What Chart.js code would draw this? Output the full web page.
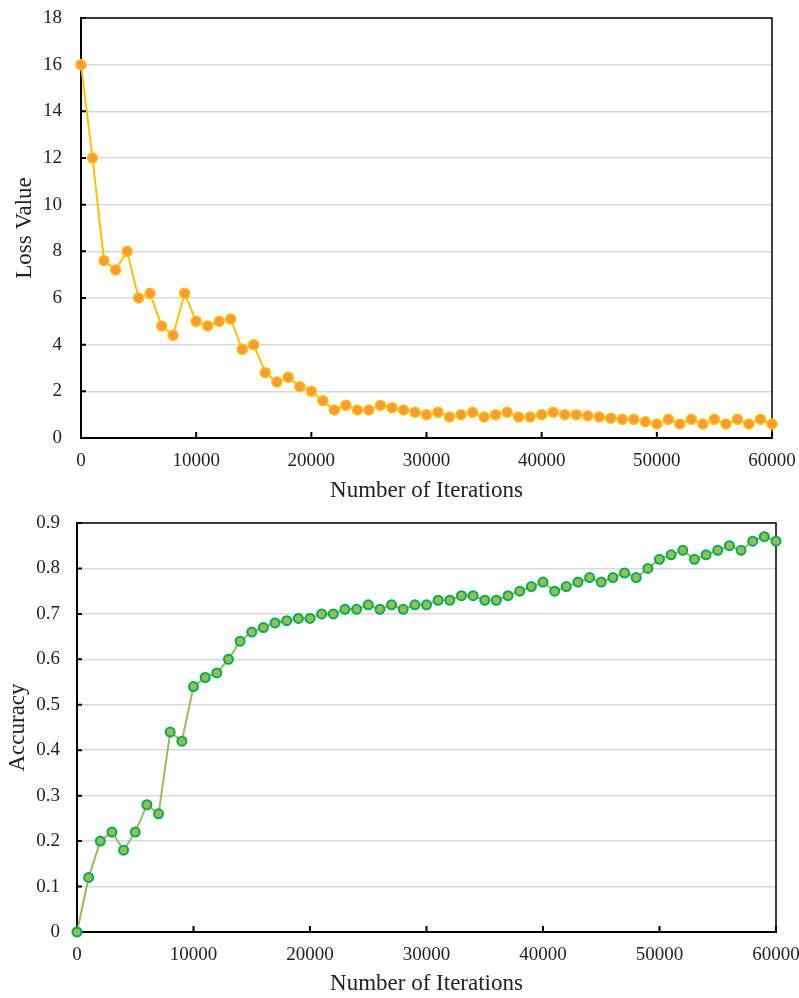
<!DOCTYPE html>
<html>
<head>
<meta charset="utf-8">
<script src="https://cdn.jsdelivr.net/npm/chart.js@4/dist/chart.umd.min.js"></script>
<style>
  html, body { margin: 0; padding: 0; background: #fff; }
  #wrap { position: relative; width: 799px; height: 998px; }
  #lossChart { position: absolute; left: 0; top: 0; }
  #accChart { position: absolute; left: 0; top: 505px; }
</style>
</head>
<body>
<div id="wrap">
  <canvas id="lossChart" width="799" height="505"></canvas>
  <canvas id="accChart" width="799" height="493"></canvas>
</div>
<script>
/* dados */
const iterations = [
  0, 1000, 2000, 3000, 4000, 5000, 6000, 7000, 8000, 9000,
  10000, 11000, 12000, 13000, 14000, 15000, 16000, 17000, 18000, 19000,
  20000, 21000, 22000, 23000, 24000, 25000, 26000, 27000, 28000, 29000,
  30000, 31000, 32000, 33000, 34000, 35000, 36000, 37000, 38000, 39000,
  40000, 41000, 42000, 43000, 44000, 45000, 46000, 47000, 48000, 49000,
  50000, 51000, 52000, 53000, 54000, 55000, 56000, 57000, 58000, 59000,
  60000
];

const lossValues = [
  16, 12, 7.6, 7.2, 8, 6, 6.2, 4.8, 4.4, 6.2,
  5, 4.8, 5, 5.1, 3.8, 4, 2.8, 2.4, 2.6, 2.2,
  2, 1.6, 1.2, 1.4, 1.2, 1.2, 1.4, 1.3, 1.2, 1.1,
  1, 1.1, 0.9, 1, 1.1, 0.9, 1, 1.1, 0.9, 0.9,
  1, 1.1, 1, 1, 0.95, 0.9, 0.85, 0.8, 0.8, 0.7,
  0.6, 0.8, 0.6, 0.8, 0.6, 0.8, 0.6, 0.8, 0.6, 0.8,
  0.6
];

const accuracyValues = [
  0, 0.12, 0.2, 0.22, 0.18, 0.22, 0.28, 0.26, 0.44, 0.42,
  0.54, 0.56, 0.57, 0.6, 0.64, 0.66, 0.67, 0.68, 0.685, 0.69,
  0.69, 0.7, 0.7, 0.71, 0.71, 0.72, 0.71, 0.72, 0.71, 0.72,
  0.72, 0.73, 0.73, 0.74, 0.74, 0.73, 0.73, 0.74, 0.75, 0.76,
  0.77, 0.75, 0.76, 0.77, 0.78, 0.77, 0.78, 0.79, 0.78, 0.8,
  0.82, 0.83, 0.84, 0.82, 0.83, 0.84, 0.85, 0.84, 0.86, 0.87,
  0.86
];

const FONT = "'Liberation Serif', 'Times New Roman', serif";

/* moldura preta + marcas de escala para dentro */
const framePlugin = {
  id: 'frame',
  beforeDatasetsDraw(chart) {
    const ctx = chart.ctx;
    const a = chart.chartArea;
    const xs = chart.scales.x;
    const ys = chart.scales.y;
    ctx.save();
    ctx.strokeStyle = '#000';
    ctx.lineWidth = 1.5;
    ctx.beginPath();
    ctx.moveTo(a.left, a.top);
    ctx.lineTo(a.right, a.top);
    ctx.lineTo(a.right, a.bottom);
    ctx.stroke();
    ctx.lineWidth = 2;
    ctx.beginPath();
    ys.ticks.forEach((t) => {
      const py = ys.getPixelForValue(t.value);
      ctx.moveTo(a.left, py);
      ctx.lineTo(a.left + 5, py);
    });
    xs.ticks.forEach((t) => {
      const px = xs.getPixelForValue(t.value);
      ctx.moveTo(px, a.bottom);
      ctx.lineTo(px, a.bottom - 6);
    });
    ctx.stroke();
    ctx.restore();
  }
};

function makeConfig(opts) {
  return {
    type: 'line',
    data: {
      datasets: [{
        data: iterations.map((x, i) => ({ x: x, y: opts.values[i] })),
        borderColor: opts.line,
        borderWidth: 2,
        pointRadius: opts.radius,
        pointBorderWidth: opts.pointBorder,
        pointBackgroundColor: opts.fill,
        pointBorderColor: opts.edge,
        tension: 0,
        clip: false
      }]
    },
    options: {
      responsive: false,
      animation: false,
      events: [],
      layout: { padding: { top: 18, right: opts.right, bottom: 0, left: 0 } },
      plugins: { legend: { display: false }, tooltip: { enabled: false } },
      scales: {
        x: {
          type: 'linear',
          min: 0,
          max: 60000,
          afterFit: (s) => {
            s.height = opts.xHeight;
            s.paddingLeft = 0;
            s.paddingRight = 0;
          },
          ticks: {
            stepSize: 10000,
            padding: 12,
            color: '#222',
            font: { family: FONT, size: 19 },
            callback: (v) => String(v)
          },
          grid: { display: false, drawTicks: false },
          border: { color: '#000', width: 2 },
          title: {
            display: true,
            text: 'Number of Iterations',
            color: '#222',
            font: { family: FONT, size: 23 },
            padding: { top: 0, bottom: 0 }
          }
        },
        y: {
          min: 0,
          max: opts.yMax,
          afterFit: (s) => {
            s.width = opts.yWidth;
            s.paddingTop = 0;
            s.paddingBottom = 0;
          },
          ticks: {
            stepSize: opts.yStep,
            padding: opts.yPad,
            color: '#222',
            font: { family: FONT, size: 19 },
            callback: (v) => String(+v.toFixed(1))
          },
          grid: { color: '#d9d9d9', lineWidth: 1.5, drawTicks: false },
          border: { color: '#000', width: 2 },
          title: {
            display: true,
            text: opts.yTitle,
            color: '#222',
            font: { family: FONT, size: 23 },
            padding: { top: opts.yTitlePad, bottom: 0 }
          }
        }
      }
    },
    plugins: [framePlugin]
  };
}

const lossChart = new Chart(document.getElementById('lossChart').getContext('2d'), makeConfig({
  values: lossValues,
  line: '#FFC000',
  fill: '#F79A3C',
  edge: '#FFC000',
  radius: 5,
  pointBorder: 1.5,
  right: 27,
  xHeight: 67,
  yWidth: 81,
  yMax: 18,
  yStep: 2,
  yPad: 19,
  yTitle: 'Loss Value',
  yTitlePad: 11
}));

const accChart = new Chart(document.getElementById('accChart').getContext('2d'), makeConfig({
  values: accuracyValues,
  line: '#9BBB59',
  fill: '#9BBB59',
  edge: '#00B050',
  radius: 4.5,
  pointBorder: 2,
  right: 23,
  xHeight: 66,
  yWidth: 77,
  yMax: 0.9,
  yStep: 0.1,
  yPad: 17,
  yTitle: 'Accuracy',
  yTitlePad: 4
}));
</script>
</body>
</html>
